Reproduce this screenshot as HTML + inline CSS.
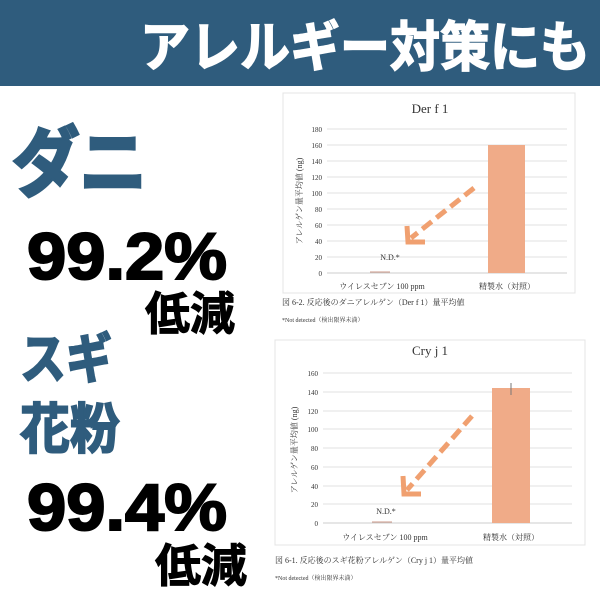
<!DOCTYPE html>
<html><head><meta charset="utf-8"><style>
body{margin:0;background:#fff}
svg{display:block}
</style></head><body>
<svg width="600" height="600" viewBox="0 0 600 600" xmlns="http://www.w3.org/2000/svg">
<rect width="600" height="600" fill="#fff"/>
<rect x="0" y="0" width="600" height="86" fill="#2f5c7d"/>
<text x="140" y="66" textLength="450" lengthAdjust="spacingAndGlyphs" font-family="Liberation Sans, Noto Sans CJK JP, sans-serif" font-weight="bold" font-size="54" fill="#fff" stroke="#fff" stroke-width="1.5">アレルギー対策にも</text>
<g font-family="Liberation Sans, Noto Sans CJK JP, sans-serif" font-weight="bold">
<text x="12" y="190" font-size="76" textLength="135" lengthAdjust="spacingAndGlyphs" fill="#2f5c7d" stroke="#2f5c7d" stroke-width="3">ダニ</text>
<text x="27" y="279" font-size="66" textLength="200" lengthAdjust="spacingAndGlyphs" fill="#000" stroke="#000" stroke-width="2">99.2%</text>
<text x="145" y="330" font-size="46" textLength="90" lengthAdjust="spacingAndGlyphs" fill="#000" stroke="#000" stroke-width="1">低減</text>
<text x="20" y="378" font-size="54" textLength="92" lengthAdjust="spacingAndGlyphs" fill="#2f5c7d" stroke="#2f5c7d" stroke-width="2">スギ</text>
<text x="20" y="448" font-size="54" textLength="100" lengthAdjust="spacingAndGlyphs" fill="#2f5c7d" stroke="#2f5c7d" stroke-width="2">花粉</text>
<text x="27" y="530" font-size="66" textLength="200" lengthAdjust="spacingAndGlyphs" fill="#000" stroke="#000" stroke-width="2">99.4%</text>
<text x="155" y="582" font-size="46" textLength="92" lengthAdjust="spacingAndGlyphs" fill="#000" stroke="#000" stroke-width="1">低減</text>
</g>
<!-- chart 1 -->
<g font-family="Liberation Serif, Noto Serif CJK SC, serif" fill="#333">
<rect x="283" y="93" width="292" height="200" fill="#fff" stroke="#e4e4e4"/>
<text x="430" y="113" text-anchor="middle" font-size="13">Der f 1</text>
<g stroke="#e2e2e2" stroke-width="1">
<line x1="327" x2="567" y1="129" y2="129"/><line x1="327" x2="567" y1="145" y2="145"/>
<line x1="327" x2="567" y1="161" y2="161"/><line x1="327" x2="567" y1="177" y2="177"/>
<line x1="327" x2="567" y1="193" y2="193"/><line x1="327" x2="567" y1="209" y2="209"/>
<line x1="327" x2="567" y1="225" y2="225"/><line x1="327" x2="567" y1="241" y2="241"/>
<line x1="327" x2="567" y1="257" y2="257"/><line x1="327" x2="567" y1="273" y2="273" stroke="#ccc"/>
</g>
<g font-size="7" text-anchor="end">
<text x="322" y="132">180</text><text x="322" y="148">160</text><text x="322" y="164">140</text>
<text x="322" y="180">120</text><text x="322" y="196">100</text><text x="322" y="212">80</text>
<text x="322" y="228">60</text><text x="322" y="244">40</text><text x="322" y="260">20</text><text x="322" y="276">0</text>
</g>
<text transform="translate(302,201) rotate(-90)" text-anchor="middle" font-size="8">アレルゲン量平均値 (ng)</text>
<rect x="488" y="145" width="37" height="128" fill="#f0ab88"/>
<line x1="370" x2="390" y1="272" y2="272" stroke="#c98" />
<text x="390" y="260" text-anchor="middle" font-size="8">N.D.*</text>
<text x="382" y="289" text-anchor="middle" font-size="8">ウイレスセブン 100 ppm</text>
<text x="507" y="289" text-anchor="middle" font-size="8">精製水（対照）</text>
<text x="282" y="305" font-size="8">図 6-2. 反応後のダニアレルゲン（Der f 1）量平均値</text>
<text x="282" y="322" font-size="6">*Not detected（検出限界未満）</text>
<line x1="474" y1="188" x2="411" y2="238" stroke="#f0a070" stroke-width="5" stroke-dasharray="12,6"/>
<polyline points="407,226 408,242 425,242" fill="none" stroke="#f0a070" stroke-width="5"/>
</g>
<!-- chart 2 -->
<g font-family="Liberation Serif, Noto Serif CJK SC, serif" fill="#333">
<rect x="275" y="340" width="310" height="205" fill="#fff" stroke="#e4e4e4"/>
<text x="430" y="355" text-anchor="middle" font-size="13">Cry j 1</text>
<g stroke="#e2e2e2" stroke-width="1">
<line x1="323" x2="572" y1="373" y2="373"/><line x1="323" x2="572" y1="392" y2="392"/>
<line x1="323" x2="572" y1="411" y2="411"/><line x1="323" x2="572" y1="429" y2="429"/>
<line x1="323" x2="572" y1="448" y2="448"/><line x1="323" x2="572" y1="467" y2="467"/>
<line x1="323" x2="572" y1="486" y2="486"/><line x1="323" x2="572" y1="504" y2="504"/>
<line x1="323" x2="572" y1="523" y2="523" stroke="#ccc"/>
</g>
<g font-size="7" text-anchor="end">
<text x="318" y="376">160</text><text x="318" y="395">140</text><text x="318" y="414">120</text>
<text x="318" y="432">100</text><text x="318" y="451">80</text><text x="318" y="470">60</text>
<text x="318" y="489">40</text><text x="318" y="507">20</text><text x="318" y="526">0</text>
</g>
<text transform="translate(297,450) rotate(-90)" text-anchor="middle" font-size="8">アレルゲン量平均値 (ng)</text>
<rect x="492" y="388" width="38" height="135" fill="#f0ab88"/>
<line x1="511" x2="511" y1="383" y2="395" stroke="#777"/>
<line x1="372" x2="392" y1="522" y2="522" stroke="#c98"/>
<text x="386" y="514" text-anchor="middle" font-size="8">N.D.*</text>
<text x="385" y="540" text-anchor="middle" font-size="8">ウイレスセブン 100 ppm</text>
<text x="511" y="540" text-anchor="middle" font-size="8">精製水（対照）</text>
<text x="275" y="563" font-size="8">図 6-1. 反応後のスギ花粉アレルゲン（Cry j 1）量平均値</text>
<text x="275" y="580" font-size="6">*Not detected（検出限界未満）</text>
<line x1="472" y1="416" x2="407" y2="490" stroke="#f0a070" stroke-width="5" stroke-dasharray="12,6"/>
<polyline points="403,476 404,494 421,494" fill="none" stroke="#f0a070" stroke-width="5"/>
</g>
</svg>
</body></html>
